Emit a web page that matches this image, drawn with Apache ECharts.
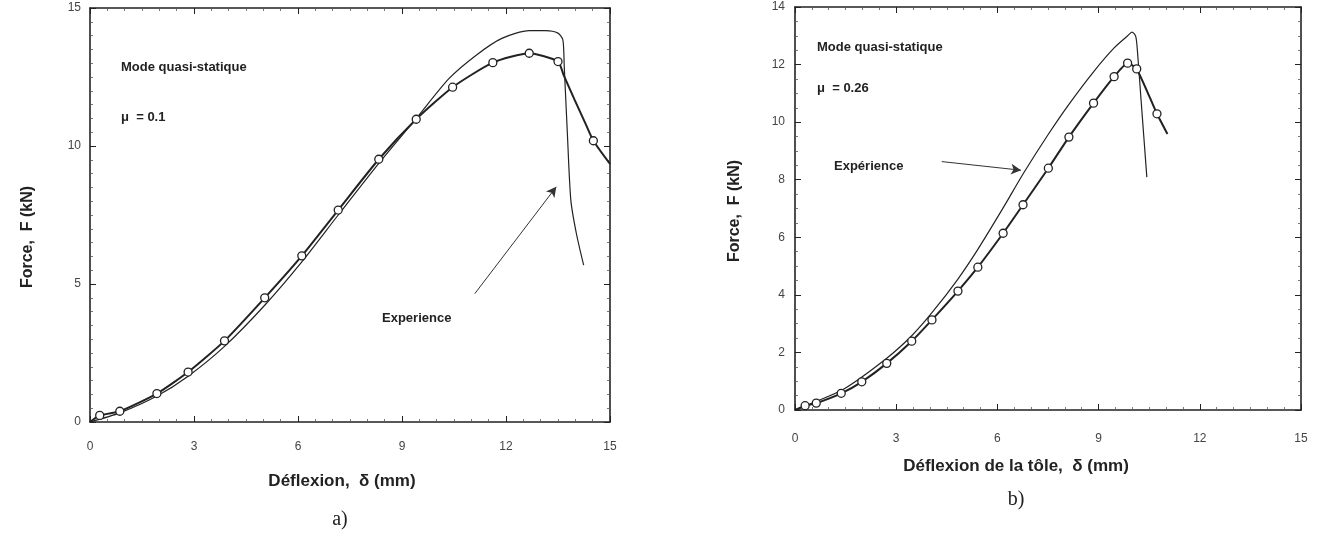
<!DOCTYPE html>
<html>
<head>
<meta charset="utf-8">
<script src="https://cdn.jsdelivr.net/npm/echarts@6/dist/echarts.min.js"></script>
<style>
  html, body { margin: 0; padding: 0; background: #fff; }
  #main { width: 1321px; height: 538px; }
</style>
</head>
<body>
<div id="main"></div>
<script>
// axes
var yMaxA = 15, yStepA = 5;
var yMaxB = 14, yStepB = 2;

// a) mu = 0.1 : simulation (points with circles) and experiment
var simA = [[0.28, 0.24], [0.86, 0.39], [1.93, 1.03], [2.83, 1.81], [3.88, 2.94], [5.04, 4.50],
  [6.11, 6.02], [7.16, 7.68], [8.33, 9.52], [9.41, 10.97], [10.46, 12.13], [11.62, 13.02],
  [12.67, 13.36], [13.50, 13.06], [14.52, 10.19]];
var simAExtra = [[0, 0], [13.66, 12.58], [13.98, 11.67], [14.29, 10.82], [15, 9.35]];
var expA = [[0, 0], [0.86, 0.33], [1.93, 0.94], [2.83, 1.66], [3.88, 2.74], [5.04, 4.23],
  [6.11, 5.80], [7.16, 7.50], [8.33, 9.37], [9.41, 11.00], [10.36, 12.45], [11.15, 13.30],
  [11.88, 13.90], [12.67, 14.18], [13.14, 14.18], [13.50, 14.09], [13.64, 13.85],
  [13.68, 12.88], [13.77, 10.46], [13.87, 8.04], [14.03, 6.83], [14.24, 5.68]];

// b) mu = 0.26
var simB = [[0.30, 0.15], [0.63, 0.24], [1.37, 0.58], [1.98, 0.98], [2.72, 1.62], [3.46, 2.39],
  [4.06, 3.13], [4.83, 4.13], [5.42, 4.96], [6.17, 6.14], [6.76, 7.13], [7.51, 8.40],
  [8.12, 9.48], [8.85, 10.66], [9.46, 11.58], [9.86, 12.05], [10.13, 11.85], [10.73, 10.29]];
var simBExtra = [[0, 0], [11.04, 9.59]];
var expB = [[0, 0], [0.57, 0.27], [1.45, 0.73], [2.72, 1.80], [3.46, 2.58], [4.06, 3.38],
  [4.83, 4.55], [5.42, 5.58], [6.17, 7.02], [6.76, 8.20], [7.51, 9.58], [8.12, 10.62],
  [8.85, 11.75], [9.46, 12.58], [9.86, 13.00], [9.99, 13.13], [10.10, 12.98], [10.15, 12.49],
  [10.26, 10.75], [10.43, 8.09]];

// arrows "Experience"
var arrowA = [[11.1, 4.65], [13.45, 8.52]];
var arrowB = [[4.35, 8.63], [6.70, 8.33]];

var ink = '#222';
var txtFont = 'Liberation Sans, Arial, sans-serif';

function lineData(pts, extra) {
  var all = [];
  pts.forEach(function (p) { all.push({value: p}); });
  extra.forEach(function (p) { all.push({value: p, symbol: 'none'}); });
  all.sort(function (a, b) { return a.value[0] - b.value[0]; });
  return all;
}

function xAx(grid, pos, labels, margin) {
  return {
    type: 'value', gridIndex: grid, position: pos, min: 0, max: 15, interval: 3,
    axisLine: {show: true, onZero: false, lineStyle: {color: ink, width: 1.6}},
    axisTick: {show: true, inside: true, length: 6, lineStyle: {color: ink, width: 1}},
    minorTick: {show: true, splitNumber: 6, length: 3, lineStyle: {color: '#555', width: 0.8}},
    axisLabel: {show: labels, margin: margin, color: '#444', fontSize: 12, fontFamily: txtFont},
    splitLine: {show: false}
  };
}
function yAx(grid, pos, max, step, minor, labels, margin) {
  return {
    type: 'value', gridIndex: grid, position: pos, min: 0, max: max, interval: step,
    axisLine: {show: true, onZero: false, lineStyle: {color: ink, width: 1.6}},
    axisTick: {show: true, inside: true, length: 6, lineStyle: {color: ink, width: 1}},
    minorTick: {show: true, splitNumber: minor, length: 3, lineStyle: {color: '#555', width: 0.8}},
    axisLabel: {show: labels, margin: margin, color: '#444', fontSize: 12, fontFamily: txtFont},
    splitLine: {show: false}
  };
}

function simSeries(xi, yi, data) {
  return {
    type: 'line', xAxisIndex: xi, yAxisIndex: yi, data: data, smooth: 0.2,
    symbol: 'circle', symbolSize: 8, showAllSymbol: true,
    itemStyle: {color: '#fff', borderColor: ink, borderWidth: 1.3},
    lineStyle: {color: ink, width: 2}, z: 3, animation: false
  };
}
function expSeries(xi, yi, data, arrow) {
  return {
    type: 'line', xAxisIndex: xi, yAxisIndex: yi, data: data, smooth: 0.25,
    showSymbol: false, lineStyle: {color: ink, width: 1.2}, z: 2, animation: false,
    markLine: {
      silent: true, symbol: ['none', 'arrow'], symbolSize: [8, 10], animation: false,
      lineStyle: {color: '#333', width: 1, type: 'solid'}, label: {show: false},
      data: [[{coord: arrow[0]}, {coord: arrow[1]}]]
    }
  };
}

function txt(x, y, s, size, opts) {
  opts = opts || {};
  return {
    type: 'text', x: x, y: y, rotation: opts.rot || 0,
    style: {
      text: s, fill: ink, textAlign: opts.align || 'left', textVerticalAlign: 'middle',
      font: (opts.weight || 'bold') + ' ' + size + 'px ' + (opts.family || txtFont)
    }
  };
}

var chart = echarts.init(document.getElementById('main'));
chart.setOption({
  backgroundColor: '#fff',
  animation: false,
  grid: [
    {left: 90, top: 8, width: 520, height: 414},
    {left: 795, top: 7, width: 506, height: 403}
  ],
  xAxis: [
    xAx(0, 'bottom', true, 19), xAx(0, 'top', false, 0),
    xAx(1, 'bottom', true, 23), xAx(1, 'top', false, 0)
  ],
  yAxis: [
    yAx(0, 'left', yMaxA, yStepA, 10, true, 9), yAx(0, 'right', yMaxA, yStepA, 10, false, 0),
    yAx(1, 'left', yMaxB, yStepB, 4, true, 10), yAx(1, 'right', yMaxB, yStepB, 4, false, 0)
  ],
  series: [
    expSeries(0, 0, expA, arrowA),
    simSeries(0, 0, lineData(simA, simAExtra)),
    expSeries(2, 2, expB, arrowB),
    simSeries(2, 2, lineData(simB, simBExtra))
  ],
  graphic: [
    txt(121, 67, 'Mode quasi-statique', 13),
    txt(121, 117, 'μ  = 0.1', 13),
    txt(382, 318, 'Experience', 13),
    txt(817, 47, 'Mode quasi-statique', 13),
    txt(817, 88, 'μ  = 0.26', 13),
    txt(834, 166, 'Expérience', 13),
    txt(28, 237, 'Force,  F (kN)', 16, {rot: Math.PI / 2, align: 'center'}),
    txt(735, 211, 'Force,  F (kN)', 16, {rot: Math.PI / 2, align: 'center'}),
    txt(342, 481, 'Déflexion,  δ (mm)', 17, {align: 'center'}),
    txt(1016, 466, 'Déflexion de la tôle,  δ (mm)', 17, {align: 'center'}),
    txt(340, 520, 'a)', 20, {align: 'center', weight: 'normal', family: 'Liberation Serif, serif'}),
    txt(1016, 500, 'b)', 20, {align: 'center', weight: 'normal', family: 'Liberation Serif, serif'})
  ]
});
</script>
</body>
</html>
